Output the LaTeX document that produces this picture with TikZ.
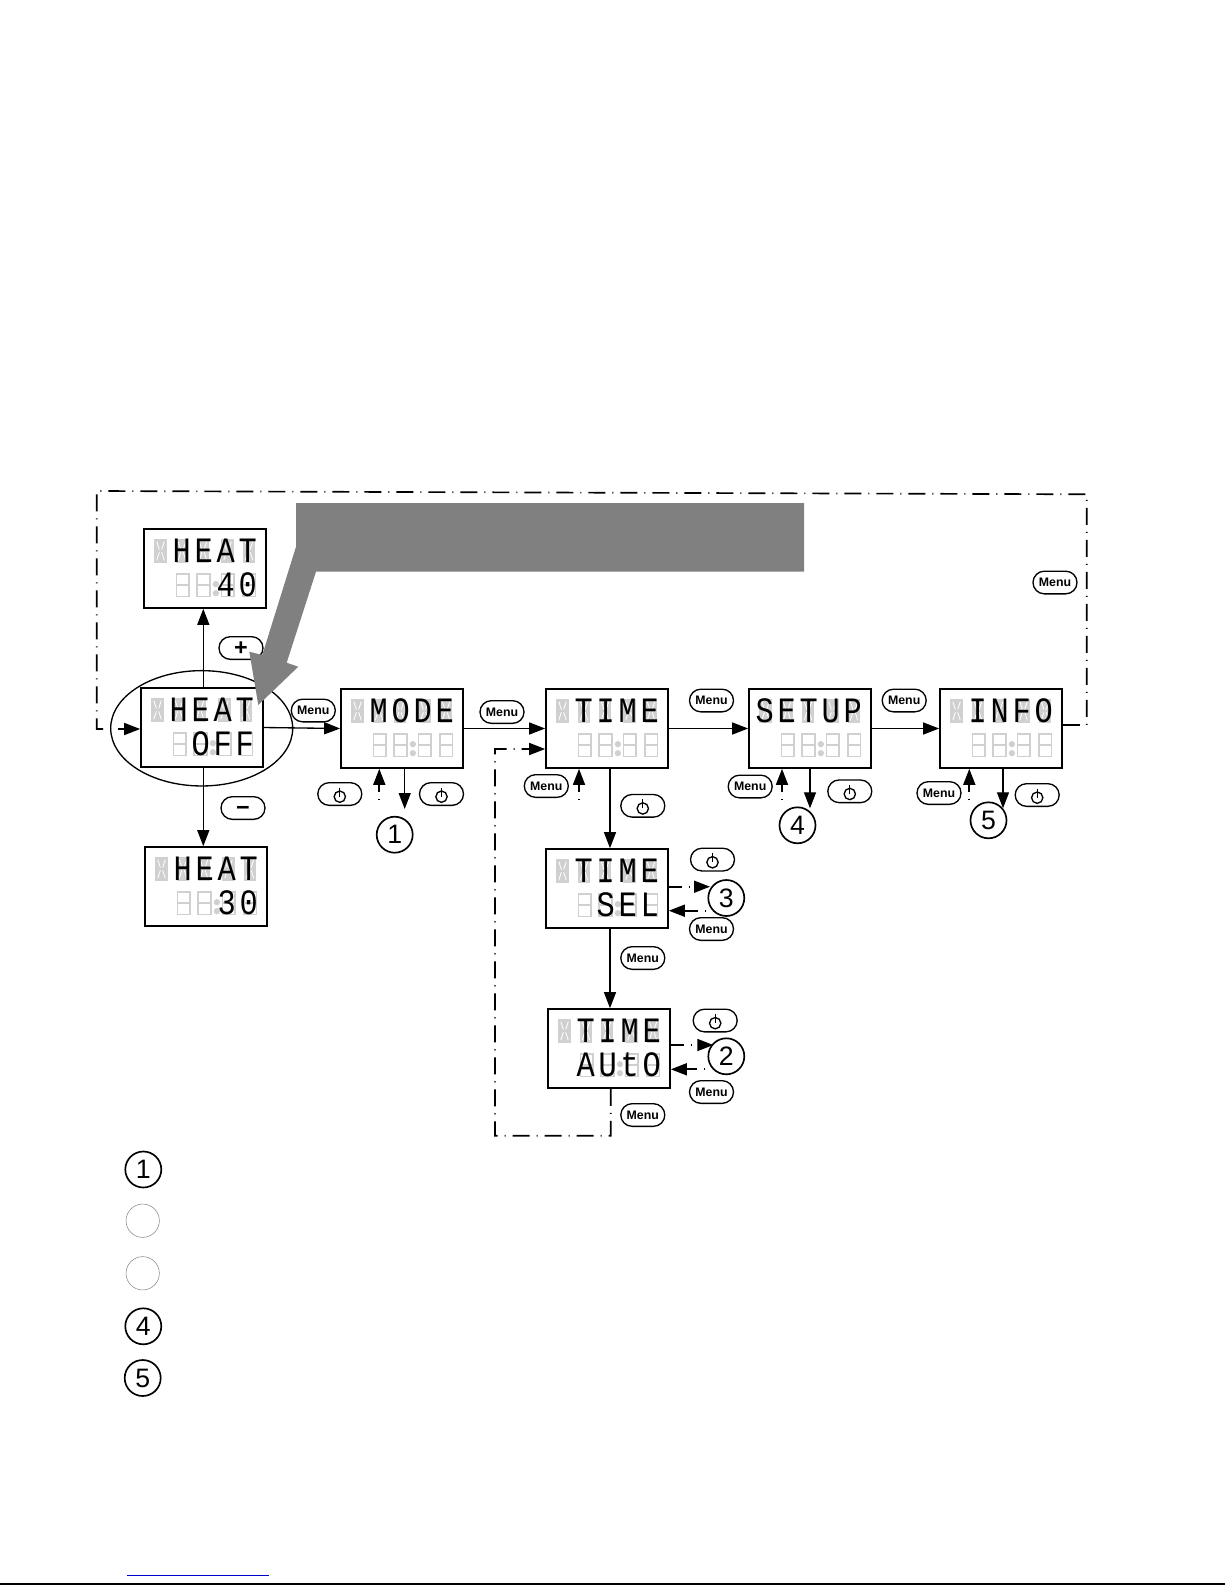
\documentclass[tikz,border=0pt]{standalone}
\usepackage{fontspec}
\setmainfont{Liberation Sans}
\newfontfamily\lcdfont[FakeStretch=0.85,LetterSpace=10.7]{Liberation Mono}
\usetikzlibrary{arrows.meta}
\usetikzlibrary{shapes.geometric}
\definecolor{lcdgrey}{HTML}{D0D0D0}
\definecolor{bandgrey}{HTML}{808080}
\tikzset{
  lcd/.style = {draw, line width = 1pt, minimum width = 73.2pt, minimum height = 47.4pt, inner sep = 0},
  lcdtext/.style = {anchor = base east, inner sep = 0, font = \lcdfont\fontsize{21.4}{22}\selectfont},
  pill/.style = {draw, line width = 0.8pt, rounded corners = 6.8pt, minimum width = 26.4pt, minimum height = 13.6pt, inner sep = 0, font = \bfseries\fontsize{7.4}{8}\selectfont},
  sign/.style = {pill, text height = 9pt, font = \bfseries\fontsize{14}{14}\selectfont},
  numcirc/.style = {draw, circle, line width = 1pt, minimum size = 21.6pt, inner sep = 0, font = \fontsize{16}{16}\selectfont},
  blankcirc/.style = {draw = gray, circle, line width = 0.3pt, minimum size = 20pt, inner sep = 0},
  flow/.style = {draw, line width = 0.8pt, -{Triangle[length = 9.6pt, width = 7.2pt]}},
  dotline/.style = {line width = 1pt, dash pattern = on 10.2pt off 4.2pt on 0.6pt off 4.2pt},
  pics/ghostchar/.style = {code = {
    \fill [lcdgrey] (0, 0) rectangle (12.7, 23.5);
    \draw [white, line width = 0.5pt] (2.6, 2.4) -- (5.2, 10.4) (10.1, 2.4) -- (7.5, 10.4) (2.6, 21.1) -- (5.2, 13.1) (10.1, 21.1) -- (7.5, 13.1);
  }},
  pics/ghostdigit/.style = {code = {
    \draw [lcdgrey, line width = 1pt] (0, 0) rectangle (12.7, 22.7) (0, 11.3) -- (12.7, 11.3);
  }},
}
% one display: name, centre, upper word, lower word
\newcommand{\lcdpanel}[4]{
  \node [lcd] (#1) at (#2) {};
  \begin{scope}[shift = {(#1.north west)}]
    \foreach \cx in {11, 32.5, 53.5, 78, 99.5}
      \pic at (\cx, 11) {ghostchar};
    \foreach \cx in {33.3, 54, 78.3, 99.7}
      \pic at (\cx, 45.7) {ghostdigit};
    \fill [lcdgrey] (72.7, 56) circle (1.9pt) (72.7, 65) circle (1.9pt);
    \node [lcdtext] (#1top) at (114, 34.5) {#3};
    \node [lcdtext] (#1bot) at (114, 68.3) {#4};
  \end{scope}
}

\begin{document}
\begin{tikzpicture}[x = 0.6pt, y = -0.6pt]
  \useasboundingbox (0, 0) rectangle (1225, 1585);

  \node [draw, ellipse, line width = 0.8pt, minimum width = 109.2pt, minimum height = 69.2pt, inner sep = 0] (ring) at (201.7, 728.3) {};

  \lcdpanel{heatup}{205, 568.5}{HEAT}{40}
  \lcdpanel{heatoff}{202, 727.5}{HEAT}{OFF}
  \lcdpanel{heatdown}{206, 886.5}{HEAT}{30}
  \lcdpanel{mode}{402, 728.5}{MODE}{}
  \lcdpanel{time}{607, 728.5}{TIME}{}
  \lcdpanel{timesel}{607, 888.5}{TIME}{SEL}
  \lcdpanel{timeauto}{609, 1048.5}{TIME}{AUtO}
  \lcdpanel{setup}{810, 728.5}{SETUP}{}
  \lcdpanel{info}{1001, 728.5}{INFO}{}

  \node [sign] (plus) at (241, 648) {+};
  \node [sign] (minus) at (243, 808) {−};

  \node [pill] (menuheat) at (313.3, 710.5) {Menu};
  \node [pill] (menumode) at (502, 712) {Menu};
  \node [pill] (menutime) at (711.5, 700.5) {Menu};
  \node [pill] (menusetup) at (904.2, 700.5) {Menu};
  \node [pill] (menuback) at (1055, 582.5) {Menu};
  \node [pill] (menutimeup) at (546.3, 786) {Menu};
  \node [pill] (menusetupup) at (750.2, 786.5) {Menu};
  \node [pill] (menuinfoup) at (939, 793) {Menu};
  \node [pill] (menusel) at (642.8, 958) {Menu};
  \node [pill] (menuselin) at (711.5, 929) {Menu};
  \node [pill] (menuautoin) at (711.5, 1092) {Menu};
  \node [pill] (menuauto) at (642.8, 1115) {Menu};

  \node [pill] (powa) at (339.8, 794) {};
  \node [pill] (powb) at (441.5, 794) {};
  \node [pill] (powc) at (642.8, 805.8) {};
  \node [pill] (powd) at (712.5, 859.6) {};
  \node [pill] (powe) at (715.2, 1020.5) {};
  \node [pill] (powf) at (849.8, 791.3) {};
  \node [pill] (powg) at (1037.2, 795) {};
  \foreach \btn in {powa, powb, powc, powd, powe, powf, powg} {
    \draw [line width = 0.8pt] ([yshift = -1.6pt]\btn.center) circle (3.4pt);
    \draw [line width = 0.8pt] ([yshift = 3.8pt]\btn.center) -- ([yshift = -1.6pt]\btn.center);
  }

  \node [numcirc] (noa) at (394.7, 834.7) {1};
  \node [numcirc] (nob) at (726.3, 1056.3) {2};
  \node [numcirc] (noc) at (726.3, 898) {3};
  \node [numcirc] (nod) at (797.5, 825.3) {4};
  \node [numcirc] (noe) at (988.5, 820.3) {5};

  \node [numcirc] (keya) at (143.3, 1169.5) {1};
  \node [blankcirc] (keyb) at (142.7, 1220.7) {};
  \node [blankcirc] (keyc) at (142.7, 1273.3) {};
  \node [numcirc] (keyd) at (143.3, 1326.3) {4};
  \node [numcirc] (keye) at (142.7, 1378) {5};

  % free ends of the short arrows
  \coordinate (modeup) at (379.3, 807);
  \coordinate (modedown) at (404.7, 809);
  \coordinate (timeup) at (579, 807);
  \coordinate (setupup) at (782, 807);
  \coordinate (setupdown) at (810, 808.3);
  \coordinate (infoup) at (969.3, 807);
  \coordinate (infodown) at (1003, 808.3);
  \coordinate (selout) at (710, 886.7);
  \coordinate (selin) at (713, 910.7);
  \coordinate (autoout) at (713.3, 1045);
  \coordinate (autoin) at (712, 1069.3);

  \draw [flow] (heatoff.north -| 203.3, 0) -- (203.3, 0 |- heatup.south);
  \draw [flow] (heatoff.south -| 203.3, 0) -- (203.3, 0 |- heatdown.north);
  \draw [flow] (heatoff.east) -- (mode.west);
  \draw [flow] (mode.east) -- (time.west);
  \draw [flow] (time.east) -- (setup.west);
  \draw [flow] (setup.east) -- (info.west);
  \draw [flow] (time.south -| 610, 0) -- (610, 0 |- timesel.north);
  \draw [flow] (timesel.south -| 610, 0) -- (610, 0 |- timeauto.north);
  \draw [flow] (mode.south -| modedown) -- (modedown);
  \draw [flow] (setup.south -| setupdown) -- (setupdown);
  \draw [flow] (info.south -| infodown) -- (infodown);

  \draw [flow, dotline, dash phase = 10.2pt] (modeup) -- (mode.south -| modeup);
  \draw [flow, dotline, dash phase = 10.2pt] (timeup) -- (time.south -| timeup);
  \draw [flow, dotline, dash phase = 10.2pt] (setupup) -- (setup.south -| setupup);
  \draw [flow, dotline, dash phase = 10.2pt] (infoup) -- (info.south -| infoup);
  \draw [flow, dotline, dash phase = 2.4pt] (timesel.east |- selout) -- (selout);
  \draw [flow, dotline, dash phase = 10.2pt] (selin) -- (timesel.east |- selin);
  \draw [flow, dotline, dash phase = 2.4pt] (timeauto.east |- autoout) -- (autoout);
  \draw [flow, dotline, dash phase = 10.2pt] (autoin) -- (timeauto.east |- autoin);

  % return paths
  \draw [flow, dotline] ([xshift = 1pt]timeauto.south) -- (610.7, 1135.7) -- (495, 1135.7) -- (495, 749) -- (time.west |- 0, 749);
  \draw [flow, dotline] ([yshift = 2.1pt]info.east) -- (1086.7, 725) -- (1086.7, 494.3) -- (96.7, 491) -- (96.7, 729) -- (heatoff.west |- 0, 729);

  \fill [bandgrey] (296, 503) -- (804, 503) -- (804, 571.7) -- (316, 571.7) -- (286.7, 662.7) -- (298.3, 666.7) -- (258.3, 705) -- (249.3, 651.7) -- (262.3, 655) -- (296, 546.7) -- cycle;

  \draw [blue!80!black, line width = 0.6pt] (127.3, 1575) -- (268.7, 1575);
  \draw [line width = 1.2pt] (0, 1584) -- (1225, 1584);
\end{tikzpicture}
\end{document}
